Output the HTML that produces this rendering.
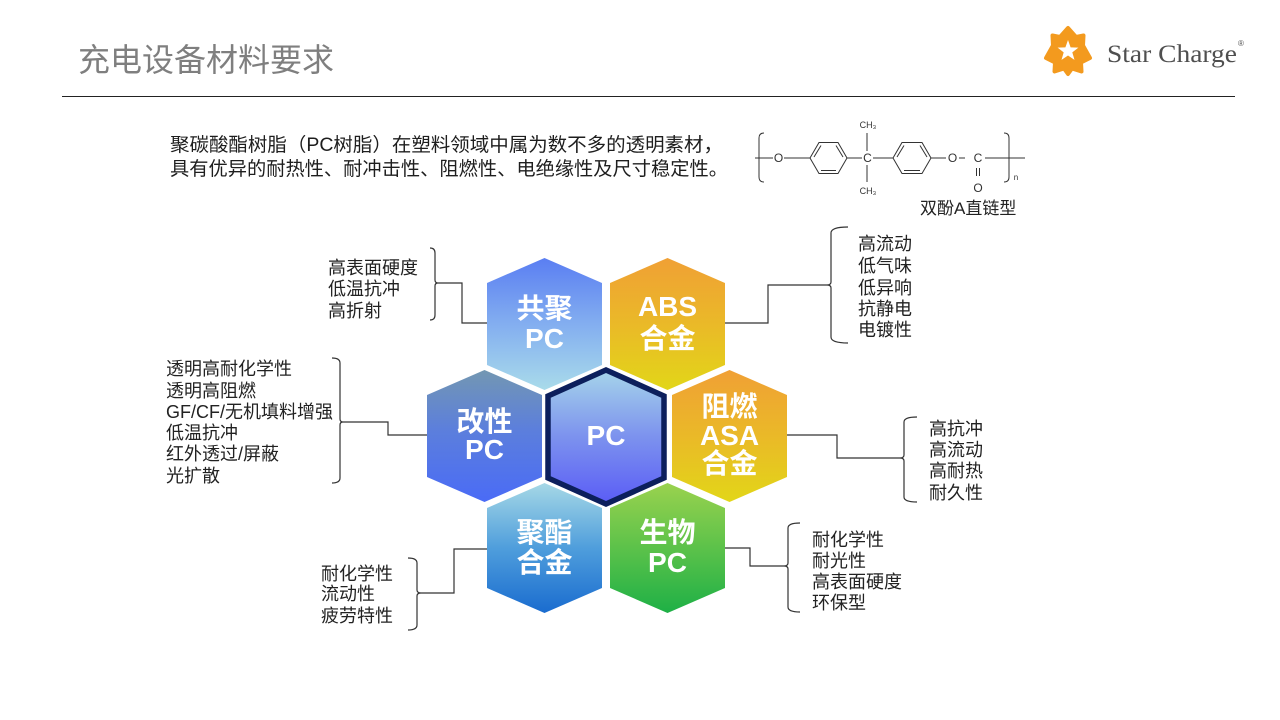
<!DOCTYPE html>
<html>
<head>
<meta charset="utf-8">
<style>
  html,body{margin:0;padding:0;background:#fff;}
  body{width:1280px;height:720px;overflow:hidden;}
  svg{display:block;}
  .lbl{font-family:"Liberation Sans","Noto Sans CJK SC",sans-serif;font-size:18px;fill:#222;}
  .hx{font-family:"Liberation Sans","Noto Sans CJK SC",sans-serif;font-size:28px;font-weight:bold;fill:#fff;text-anchor:middle;}
  .chem{font-family:"Liberation Sans","DejaVu Sans",sans-serif;fill:#333;}
</style>
</head>
<body>
<svg width="1280" height="720" viewBox="0 0 1280 720" xmlns="http://www.w3.org/2000/svg">
  <defs>
    <linearGradient id="gBlue1" x1="0" y1="0" x2="0" y2="1">
      <stop offset="0" stop-color="#5a7ef2"/>
      <stop offset="0.5" stop-color="#83aef0"/>
      <stop offset="1" stop-color="#a9dbea"/>
    </linearGradient>
    <linearGradient id="gOrange" x1="0" y1="0" x2="0" y2="1">
      <stop offset="0" stop-color="#f0a035"/>
      <stop offset="0.5" stop-color="#eab928"/>
      <stop offset="1" stop-color="#e2d618"/>
    </linearGradient>
    <linearGradient id="gMod" x1="0" y1="0" x2="0" y2="1">
      <stop offset="0" stop-color="#7397b2"/>
      <stop offset="0.45" stop-color="#5c7fdc"/>
      <stop offset="1" stop-color="#4a6bf6"/>
    </linearGradient>
    <linearGradient id="gPC" x1="0" y1="0" x2="0" y2="1">
      <stop offset="0" stop-color="#a6d5ea"/>
      <stop offset="0.5" stop-color="#7c92ee"/>
      <stop offset="1" stop-color="#5a5cf6"/>
    </linearGradient>
    <linearGradient id="gPoly" x1="0" y1="0" x2="0" y2="1">
      <stop offset="0" stop-color="#a6d8e6"/>
      <stop offset="0.5" stop-color="#4f9edc"/>
      <stop offset="1" stop-color="#1a6ccf"/>
    </linearGradient>
    <linearGradient id="gBio" x1="0" y1="0" x2="0" y2="1">
      <stop offset="0" stop-color="#9ad24e"/>
      <stop offset="0.5" stop-color="#5cc24a"/>
      <stop offset="1" stop-color="#1eb046"/>
    </linearGradient>
  </defs>

  <!-- Title -->
  <text x="78" y="71" font-family="'Liberation Sans','Noto Sans CJK SC',sans-serif" font-size="32" fill="#7f7f7f">充电设备材料要求</text>
  <line x1="62" y1="96.5" x2="1235" y2="96.5" stroke="#222" stroke-width="1"/>

  <!-- Logo -->
  <g transform="translate(1068,51)">
    <polygon fill="#f39a1e" stroke="#f39a1e" stroke-width="4" stroke-linejoin="round"
      points="0,-23 8,-14 15.5,-15.5 15,-5.5 22,7 13,11.5 13.5,20.5 4,17.5 0,23 -4,17.5 -13.5,20.5 -13,11.5 -22,7 -15,-5.5 -15.5,-15.5 -8,-14"/>
    <polygon fill="#fff" points="0,-11 2.6,-3.6 10.4,-3.4 4.3,1.4 6.5,8.9 0,4.5 -6.5,8.9 -4.3,1.4 -10.4,-3.4 -2.6,-3.6"/>
  </g>
  <text x="1107" y="62" font-family="'Liberation Serif',serif" font-size="25" fill="#4f4f4f" textLength="130" lengthAdjust="spacingAndGlyphs">Star Charge</text>
  <text x="1238" y="46" font-family="'Liberation Sans',sans-serif" font-size="8" fill="#4f4f4f">®</text>

  <!-- Paragraph -->
  <text x="170" y="151" font-family="'Liberation Sans','Noto Sans CJK SC',sans-serif" font-size="19" fill="#1e1e1e" textLength="553" lengthAdjust="spacingAndGlyphs">聚碳酸酯树脂（PC树脂）在塑料领域中属为数不多的透明素材，</text>
  <text x="170" y="175" font-family="'Liberation Sans','Noto Sans CJK SC',sans-serif" font-size="19" fill="#1e1e1e" textLength="558" lengthAdjust="spacingAndGlyphs">具有优异的耐热性、耐冲击性、阻燃性、电绝缘性及尺寸稳定性。</text>

  <!-- Chemical structure -->
  <g stroke="#333" stroke-width="1" fill="none">
    <path d="M764,133 Q759,133 759,138 L759,177 Q759,182 764,182"/>
    <line x1="755" y1="158" x2="773" y2="158"/>
    <line x1="784" y1="158" x2="810" y2="158"/>
    <polygon points="810,158 819,142.5 838,142.5 847,158 838,173.5 819,173.5"/>
    <line x1="814" y1="157" x2="821" y2="145.5"/>
    <line x1="843" y1="157" x2="836" y2="145.5"/>
    <line x1="821" y1="170.5" x2="836" y2="170.5"/>
    <line x1="847" y1="158" x2="862" y2="158"/>
    <line x1="867" y1="133" x2="867" y2="151"/>
    <line x1="867" y1="165" x2="867" y2="182"/>
    <line x1="873" y1="158" x2="893" y2="158"/>
    <polygon points="893,158 902,142.5 922,142.5 931,158 922,173.5 902,173.5"/>
    <line x1="897" y1="157" x2="904" y2="145.5"/>
    <line x1="927" y1="157" x2="920" y2="145.5"/>
    <line x1="904" y1="170.5" x2="920" y2="170.5"/>
    <line x1="931" y1="158" x2="946" y2="158"/>
    <line x1="959" y1="158" x2="965" y2="158"/>
    <line x1="985" y1="158" x2="1025" y2="158"/>
    <line x1="976.5" y1="168" x2="976.5" y2="176"/>
    <line x1="979.5" y1="168" x2="979.5" y2="176"/>
    <path d="M1004,133 Q1009,133 1009,138 L1009,177 Q1009,182 1004,182"/>
  </g>
  <g class="chem" font-size="12" text-anchor="middle">
    <text x="778.5" y="162">O</text>
    <text x="867.5" y="162">C</text>
    <text x="952.5" y="162">O</text>
    <text x="978" y="162">C</text>
    <text x="978" y="192">O</text>
    <text x="868" y="128" font-size="9">CH₃</text>
    <text x="868" y="194" font-size="9">CH₃</text>
    <text x="1016" y="180" font-size="8">n</text>
  </g>
  <text x="920" y="214" font-family="'Liberation Sans','Noto Sans CJK SC',sans-serif" font-size="17" fill="#222">双酚A直链型</text>

  <!-- Connectors & brackets -->
  <g stroke="#333" stroke-width="1.2" fill="none">
    <path d="M430,248 Q435,248 435,253 L435,280 Q435,283 438,283 Q435,283 435,286 L435,315 Q435,320 430,320"/>
    <polyline points="438,283 462,283 462,323 487,323"/>
    <path d="M332,358 Q340,358 340,363 L340,419 Q340,422 343,422 Q340,422 340,425 L340,478 Q340,483 332,483"/>
    <polyline points="343,422 388,422 388,435 427,435"/>
    <path d="M408,558 Q417,558 417,563 L417,590 Q417,593 421,593 Q417,593 417,596 L417,625 Q417,630 408,630"/>
    <polyline points="421,593 454,593 454,549 487,549"/>
    <path d="M848,227 Q831,227 831,233 L831,282 Q831,285 827,285 Q831,285 831,288 L831,337 Q831,343 848,343"/>
    <polyline points="725,323 768,323 768,285 827,285"/>
    <path d="M917,417 Q904,417 904,422 L904,455 Q904,458 900,458 Q904,458 904,461 L904,497 Q904,502 917,502"/>
    <polyline points="787,435 837,435 837,458 900,458"/>
    <path d="M800,523 Q788,523 788,528 L788,563 Q788,566 784,566 Q788,566 788,569 L788,607 Q788,612 800,612"/>
    <polyline points="725,548 750,548 750,566 784,566"/>
  </g>

  <!-- Labels -->
  <g class="lbl">
    <text x="328" y="274">高表面硬度</text>
    <text x="328" y="295">低温抗冲</text>
    <text x="328" y="317">高折射</text>

    <text x="166" y="375">透明高耐化学性</text>
    <text x="166" y="397">透明高阻燃</text>
    <text x="166" y="418">GF/CF/无机填料增强</text>
    <text x="166" y="439">低温抗冲</text>
    <text x="166" y="460">红外透过/屏蔽</text>
    <text x="166" y="482">光扩散</text>

    <text x="321" y="580">耐化学性</text>
    <text x="321" y="600">流动性</text>
    <text x="321" y="622">疲劳特性</text>

    <text x="858" y="250">高流动</text>
    <text x="858" y="272">低气味</text>
    <text x="858" y="294">低异响</text>
    <text x="858" y="315">抗静电</text>
    <text x="858" y="336">电镀性</text>

    <text x="929" y="435">高抗冲</text>
    <text x="929" y="456">高流动</text>
    <text x="929" y="477">高耐热</text>
    <text x="929" y="499">耐久性</text>

    <text x="812" y="546">耐化学性</text>
    <text x="812" y="567">耐光性</text>
    <text x="812" y="588">高表面硬度</text>
    <text x="812" y="609">环保型</text>
  </g>

  <!-- Hexagons -->
  <polygon fill="url(#gBlue1)" points="544.5,258 602,283 602,365 544.5,390 487,365 487,283"/>
  <polygon fill="url(#gOrange)" points="667.5,258 725,283 725,365 667.5,390 610,365 610,283"/>
  <polygon fill="url(#gMod)" points="484.5,370 542,395 542,477 484.5,502 427,477 427,395"/>
  <polygon fill="url(#gOrange)" points="729.5,370 787,395 787,477 729.5,502 672,477 672,395"/>
  <polygon fill="url(#gPoly)" points="544.5,483 602,508 602,588 544.5,613 487,588 487,508"/>
  <polygon fill="url(#gBio)" points="667.5,483 725,508 725,588 667.5,613 610,588 610,508"/>
  <polygon fill="url(#gPC)" stroke="#0c1f5c" stroke-width="5.5" stroke-linejoin="miter" points="606,370 664,396 664,478 606,504 548,478 548,396"/>

  <!-- Hex text -->
  <g class="hx">
    <text x="544.5" y="318">共聚</text>
    <text x="544.5" y="348">PC</text>
    <text x="667.5" y="316">ABS</text>
    <text x="667.5" y="348">合金</text>
    <text x="484.5" y="431">改性</text>
    <text x="484.5" y="459">PC</text>
    <text x="606" y="445">PC</text>
    <text x="729.5" y="416">阻燃</text>
    <text x="729.5" y="445">ASA</text>
    <text x="729.5" y="473">合金</text>
    <text x="544.5" y="542">聚酯</text>
    <text x="544.5" y="572">合金</text>
    <text x="667.5" y="542">生物</text>
    <text x="667.5" y="572">PC</text>
  </g>
</svg>
</body>
</html>
